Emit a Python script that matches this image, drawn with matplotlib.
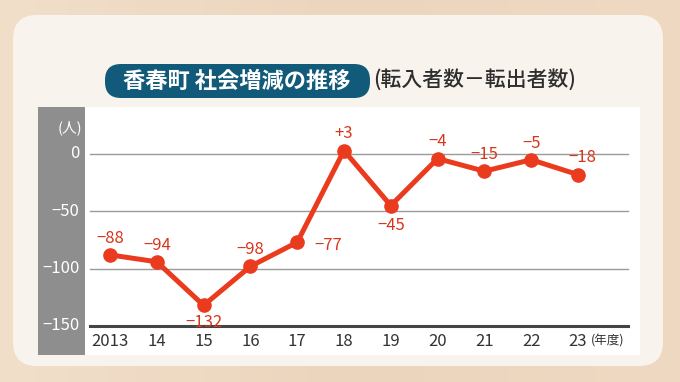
import matplotlib
matplotlib.use("Agg")
import matplotlib.pyplot as plt
from matplotlib.patches import FancyBboxPatch, Rectangle
from matplotlib.colors import LinearSegmentedColormap
import numpy as np

plt.rcParams['font.family'] = ['Noto Sans CJK JP', 'DejaVu Sans']

years = [2013, 2014, 2015, 2016, 2017, 2018, 2019, 2020, 2021, 2022, 2023]
xlabels = ["2013", "14", "15", "16", "17", "18", "19", "20", "21", "22", "23"]
values = [-88, -94, -132, -98, -77, 3, -45, -4, -15, -5, -18]
value_labels = ["−88", "−94", "−132", "−98", "−77", "+3", "−45", "−4", "−15", "−5", "−18"]
yticks = [0, -50, -100, -150]
ytick_labels = ["0", "−50", "−100", "−150"]
title = "香春町 社会増減の推移"
subtitle = "(転入者数－転出者数)"

W, H = 680, 382
fig = plt.figure(figsize=(W/100, H/100), dpi=100)

def fx(x): return x / W
def fy(y): return 1 - y / H

# background layer in pixel coordinates
bg = fig.add_axes([0, 0, 1, 1], zorder=0)
bg.set_xlim(0, W); bg.set_ylim(H, 0); bg.axis("off")
grad = np.linspace(0, 1, 256).reshape(1, -1)
cm = LinearSegmentedColormap.from_list("bg", ["#f1dfca", "#ecd5bd", "#efd9c2"])
bg.imshow(grad, aspect="auto", cmap=cm, extent=[0, W, H, 0], zorder=0)

bg.add_patch(FancyBboxPatch((13, 15), 650, 351,
                            boxstyle="round,pad=0,rounding_size=24",
                            facecolor="#f8f4ed", edgecolor="none", zorder=1))
bg.add_patch(FancyBboxPatch((105, 64), 265, 34,
                            boxstyle="round,pad=0,rounding_size=16",
                            facecolor="#115a79", edgecolor="none", zorder=2))
bg.text(237, 81, title, color="white", fontsize=16, fontweight="bold",
        ha="center", va="center", zorder=3)
bg.text(373, 80, subtitle, color="#2e2e2e", fontsize=15, fontweight="medium",
        ha="left", va="center", zorder=3)
bg.add_patch(Rectangle((85, 107), 555, 248, facecolor="white", edgecolor="none", zorder=2))
bg.add_patch(Rectangle((38, 107), 47, 248, facecolor="#8e8e8e", edgecolor="none", zorder=2))

# main axes: x 85..640 px, y 107..326 px
ax = fig.add_axes([fx(85), fy(326), fx(640) - fx(85), fy(107) - fy(326)], zorder=5)
ax.set_facecolor("none")
px_per_unit = (326 - 154) / 150.0
ax.set_ylim(-150, (154 - 107) / px_per_unit)
ax.set_xlim(2013 - 25 / 46.8, 2023 + 62 / 46.8)
for s in ax.spines.values():
    s.set_visible(False)
ax.set_xticks([]); ax.set_yticks([])

x0 = (90 - 85) / (640 - 85)
x1 = (628 - 85) / (640 - 85)
for t in yticks:
    if t == -150:
        ax.axhline(t, xmin=x0, xmax=x1, color="#444444", lw=2.2, zorder=1, clip_on=False)
    else:
        ax.axhline(t, xmin=x0, xmax=x1, color="#9a9a9a", lw=1.0, zorder=1)

for t, lab in zip(yticks, ytick_labels):
    ax.annotate(lab, xy=(0, t), xycoords=("axes fraction", "data"),
                xytext=(-4, 0), textcoords="offset points",
                ha="right", va="center", color="white", fontsize=12, annotation_clip=False)
ax.annotate("(人)", xy=(0, 0), xycoords=("axes fraction", "data"),
            xytext=(-2, 19), textcoords="offset points",
            ha="right", va="center", color="white", fontsize=10.5, annotation_clip=False)

for x, lab in zip(years, xlabels):
    ax.annotate(lab, xy=(x, -150), xycoords="data", xytext=(0, -11),
                textcoords="offset points", ha="center", va="center",
                color="#333333", fontsize=12, annotation_clip=False)
ax.annotate("(年度)", xy=(years[-1], -150), xycoords="data", xytext=(9, -11),
            textcoords="offset points", ha="left", va="center",
            color="#333333", fontsize=9, annotation_clip=False)

red = "#eb3b1e"
ax.plot(years, values, color=red, lw=3.6, marker="o", markersize=9.5,
        solid_joinstyle="round", zorder=3, clip_on=False)

offsets = {2015: (0, -12), 2019: (0, -14), 2017: (22, -2), 2023: (3, 12)}
for x, v, lab in zip(years, values, value_labels):
    dx, dy = offsets.get(x, (0, 12))
    ax.annotate(lab, xy=(x, v), xytext=(dx, dy), textcoords="offset points",
                ha="center", va="center", color="#d8351c", fontsize=12,
                annotation_clip=False, zorder=4)

fig.savefig("out.png", dpi=100)
